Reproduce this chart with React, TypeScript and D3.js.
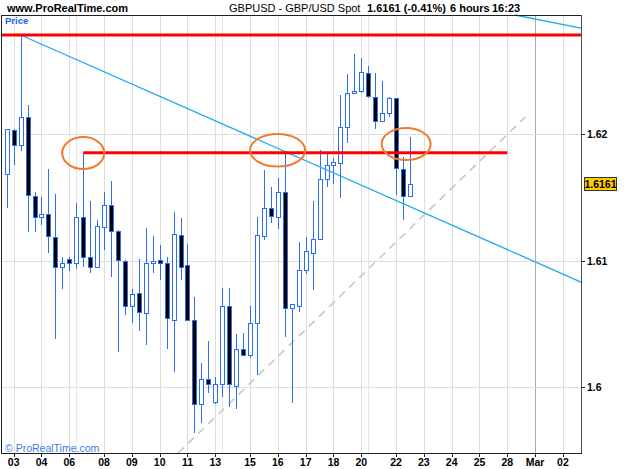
import React from 'react';
import * as d3 from 'd3';

// 6-hour GBPUSD candles
const opens = [
  1.61684, 1.62034, 1.61913, 1.62134, 1.61515, 1.61344, 1.61368, 1.61191, 1.60953, 1.61012,
  1.60985, 1.61344, 1.61032, 1.60949, 1.6127, 1.61441, 1.61238, 1.60998, 1.60643, 1.60743,
  1.6059, 1.6098, 1.61006, 1.6098, 1.60532, 1.61206, 1.60964, 1.60532, 1.59868, 1.60063,
  1.59881, 1.60026, 1.60643, 1.60013, 1.603, 1.60255, 1.60511, 1.61196, 1.61415, 1.61344,
  1.61546, 1.60629, 1.60643, 1.60927, 1.61064, 1.61175, 1.61644, 1.6176, 1.61776, 1.62055,
  1.62324, 1.62342, 1.62482, 1.62297, 1.62105, 1.62166, 1.62285, 1.61726, 1.61515,
];
const highs = [
  1.62045, 1.62045, 1.62785, 1.62232, 1.61546, 1.61502, 1.61726, 1.61526, 1.61032, 1.61032,
  1.61455, 1.61855, 1.61473, 1.61323, 1.61546, 1.61633, 1.61245, 1.61005, 1.60777, 1.61017,
  1.61257, 1.61196, 1.61125, 1.61032, 1.61388, 1.61336, 1.61133, 1.60711, 1.60194, 1.60366,
  1.60084, 1.60783, 1.60783, 1.60421, 1.60427, 1.60643, 1.61349, 1.61718, 1.61586, 1.61652,
  1.61855, 1.6066, 1.61149, 1.61186, 1.61473, 1.61876, 1.6185, 1.61815, 1.62311, 1.62474,
  1.62632, 1.62601, 1.6254, 1.62487, 1.62424, 1.62297, 1.6229, 1.61818, 1.61976,
];
const lows = [
  1.61415, 1.61755, 1.6187, 1.61225, 1.6123, 1.61283, 1.61064, 1.60379, 1.60775, 1.60922,
  1.60933, 1.60953, 1.60901, 1.60945, 1.61085, 1.6087, 1.60281, 1.60572, 1.60506, 1.60445,
  1.60334, 1.60901, 1.60848, 1.603, 1.60123, 1.60848, 1.6053, 1.59636, 1.5972, 1.59957,
  1.59868, 1.59926, 1.59847, 1.59826, 1.6025, 1.60234, 1.60097, 1.61164, 1.61301, 1.61249,
  1.604, 1.59878, 1.60598, 1.60896, 1.60769, 1.6117, 1.61581, 1.61607, 1.61494, 1.61934,
  1.6232, 1.62324, 1.62287, 1.6204, 1.621, 1.62134, 1.6152, 1.61323, 1.6151,
];
const closes = [
  1.6204, 1.61913, 1.62134, 1.6152, 1.61344, 1.6137, 1.61196, 1.60953, 1.6098, 1.60985,
  1.61344, 1.61032, 1.60949, 1.61275, 1.61441, 1.61238, 1.61006, 1.60643, 1.60735, 1.60595,
  1.6098, 1.60998, 1.6098, 1.60545, 1.61212, 1.60953, 1.60532, 1.59868, 1.60063, 1.60026,
  1.60026, 1.60643, 1.60026, 1.603, 1.60255, 1.60511, 1.61204, 1.61415, 1.61357, 1.61546,
  1.60629, 1.60656, 1.60927, 1.61075, 1.61175, 1.61644, 1.6176, 1.61779, 1.62055, 1.62324,
  1.62345, 1.6249, 1.62303, 1.62105, 1.62166, 1.62285, 1.61731, 1.61515, 1.6161,
];

// x-axis: candle index of each day label
const tickIdx = [1, 5, 9, 14, 18, 22, 26, 30, 35, 39, 43, 47, 51, 56, 60, 64, 68, 72, 76, 80];
const tickLabels = ['03', '04', '06', '08', '09', '10', '11', '13', '15', '16', '17', '18', '20', '22', '23', '24', '25', '28', 'Mar', '02'];
const extraGridIdx = [10, 31, 52];
const priceTicks = [1.6, 1.61, 1.62];
const lastPrice = 1.6161;

// drawn annotations, in (candle index, price)
const redLines = [
  { i0: -0.68, i1: 82.6, p: 1.62785 },
  { i0: 11, i1: 72, p: 1.61855 },
];
const trendDown: [number, number][] = [[2, 1.62785], [82.6, 1.60832]];
const trendTop: [number, number][] = [[73.1, 1.62943], [82.6, 1.6284]];
const support: [number, number][] = [[24.65, 1.59481], [74.6, 1.62137]];
const circles = [
  { i: 11, p: 1.61852, rx: 21, ry: 16 },
  { i: 38.96, p: 1.61874, rx: 27.5, ry: 16.3 },
  { i: 57.45, p: 1.61923, rx: 24.5, ry: 16 },
];

const W = 625;
const H = 469;
const left = 2;
const right = 581;
const top = 15;
const bottom = 453;
const font = 'Liberation Sans, Arial, sans-serif';
const blue = '#2a6ef4';

export default function App() {
  const x = d3.scaleLinear().domain([-0.68, 82.6]).range([left, right]);
  const y = d3.scaleLinear().domain([1.6, 1.62]).range([387.3, 134.3]);
  const line = d3.line<[number, number]>().x((d) => x(d[0])).y((d) => y(d[1]));

  const candles = opens.map((o, i) => ({ i, o, h: highs[i], l: lows[i], c: closes[i] }));

  return (
    <svg width={W} height={H} style={{ position: 'absolute', left: 0, top: 0, background: '#fff' }} fontFamily={font}>
      <rect width={W} height={H} fill="#fff" />

      {/* header */}
      <text x={7} y={12} fontSize={11} fontWeight="bold" fill="#000">www.ProRealTime.com</text>
      <text x={229} y={12} fontSize={11} fill="#000">GBPUSD - GBP/USD Spot</text>
      <text x={367} y={12} fontSize={11} fontWeight="bold" fill="#000">1.6161 (-0.41%)</text>
      <text x={450} y={12} fontSize={11} fontWeight="bold" fill="#000">6 hours</text>
      <text x={492} y={12} fontSize={11} fontWeight="bold" fill="#000">16:23</text>

      {/* grid */}
      <g shapeRendering="crispEdges">
        {tickIdx.map((t, k) => (
          <line key={'gx' + k} x1={Math.round(x(t)) + 0.5} x2={Math.round(x(t)) + 0.5} y1={top} y2={bottom}
            stroke={tickLabels[k] === 'Mar' ? '#a8a8a8' : '#dedede'} />
        ))}
        {extraGridIdx.map((t, k) => (
          <line key={'ge' + k} x1={Math.round(x(t)) + 0.5} x2={Math.round(x(t)) + 0.5} y1={top} y2={bottom} stroke="#e6e6e6" />
        ))}
        {priceTicks.map((p) => (
          <line key={'gy' + p} x1={left} x2={right} y1={Math.round(y(p)) + 0.5} y2={Math.round(y(p)) + 0.5} stroke="#dedede" />
        ))}
      </g>

      <text x={5} y={24} fontSize={9.5} fontWeight="bold" fill="#1a5ef0">Price</text>
      <text x={5} y={452} fontSize={10.5} fill="#3b7be8">© ProRealTime.com</text>

      {/* support line */}
      <path d={line(support) || ''} stroke="#c4c4c4" strokeWidth={1.5} strokeDasharray="8,6" fill="none" />

      {/* candles */}
      <g shapeRendering="crispEdges">
        {candles.map((d) => {
          const cx = Math.round(x(d.i));
          const yt = Math.round(y(Math.max(d.o, d.c)));
          const yb = Math.round(y(Math.min(d.o, d.c)));
          const up = d.c >= d.o;
          return (
            <g key={d.i}>
              <line x1={cx + 0.5} x2={cx + 0.5} y1={y(d.h)} y2={y(d.l)} stroke={blue} />
              <rect x={cx - 1.5} y={yt + 0.5} width={4} height={Math.max(yb - yt, 2)}
                fill={up ? '#fff' : '#000'} stroke={blue} />
            </g>
          );
        })}
      </g>

      {/* trend lines */}
      <path d={line(trendDown) || ''} stroke="#1eaaf0" strokeWidth={1.3} fill="none" />
      <path d={line(trendTop) || ''} stroke="#1eaaf0" strokeWidth={1.3} fill="none" />

      {/* horizontal levels */}
      {redLines.map((r, k) => (
        <line key={'r' + k} x1={x(r.i0)} x2={x(r.i1)} y1={y(r.p)} y2={y(r.p)} stroke="#ff0000" strokeWidth={3} />
      ))}

      {circles.map((c, k) => (
        <ellipse key={'c' + k} cx={x(c.i)} cy={y(c.p)} rx={c.rx} ry={c.ry} fill="none" stroke="#f27a2e" strokeWidth={2} />
      ))}

      {/* frame */}
      <g shapeRendering="crispEdges">
        <line x1={left - 0.5} x2={right} y1={top + 0.5} y2={top + 0.5} stroke="#202020" />
        <line x1={left - 0.5} x2={left - 0.5} y1={top} y2={bottom} stroke="#202020" />
        <line x1={right + 0.5} x2={right + 0.5} y1={top} y2={bottom + 1} stroke="#505050" />
        <line x1={left - 1} x2={right + 1} y1={bottom + 0.5} y2={bottom + 0.5} stroke="#202020" />
        {tickIdx.map((t, k) => (
          <line key={'tx' + k} x1={Math.round(x(t)) + 0.5} x2={Math.round(x(t)) + 0.5} y1={bottom} y2={bottom + 4} stroke="#202020" />
        ))}
        {priceTicks.map((p) => (
          <line key={'ty' + p} x1={right} x2={right + 4} y1={Math.round(y(p)) + 0.5} y2={Math.round(y(p)) + 0.5} stroke="#202020" />
        ))}
      </g>

      {/* axis labels */}
      {tickIdx.map((t, k) => (
        <text key={'lx' + k} x={x(t)} y={466} fontSize={10.5} fontWeight="bold" textAnchor="middle" fill="#000">{tickLabels[k]}</text>
      ))}
      {priceTicks.map((p) => (
        <text key={'ly' + p} x={587} y={y(p) + 4} fontSize={10.5} fontWeight="bold" fill="#000">{d3.format('')(p)}</text>
      ))}

      {/* last price */}
      <rect x={584.5} y={Math.round(y(lastPrice)) - 6.5} width={32} height={13} fill="#ffcc00" stroke="#333" shapeRendering="crispEdges" />
      <text x={600.5} y={y(lastPrice) + 4} fontSize={10.5} fontWeight="bold" textAnchor="middle" fill="#000">{lastPrice.toFixed(4)}</text>
    </svg>
  );
}
